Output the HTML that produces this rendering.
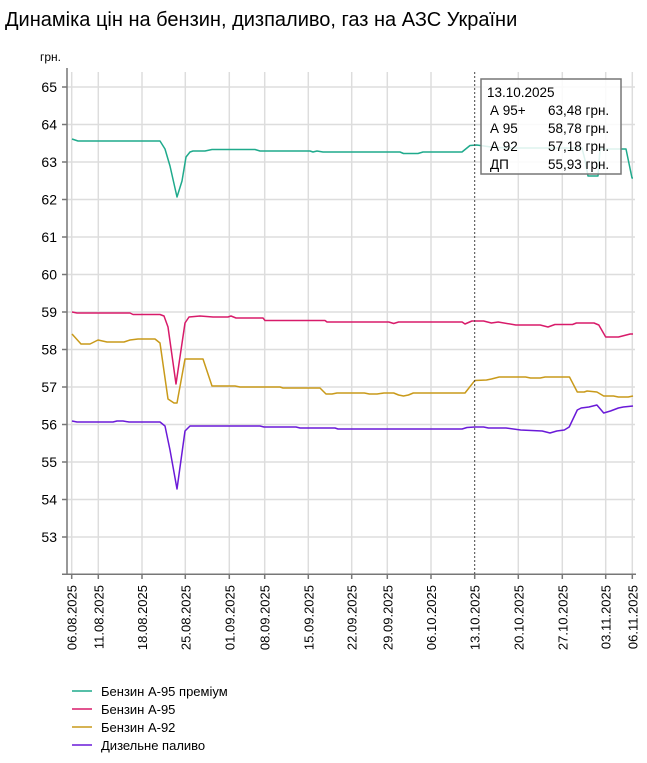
<!DOCTYPE html>
<html><head><meta charset="utf-8"><style>
body{margin:0;background:#fff;width:647px;height:758px;overflow:hidden;font-family:"Liberation Sans",Arial,sans-serif}
</style></head><body>
<svg width="647" height="758" xmlns="http://www.w3.org/2000/svg" font-family="Liberation Sans, Arial, sans-serif">
<text x="5" y="26" font-size="20" fill="#000">Динаміка цін на бензин, дизпаливо, газ на АЗС України</text>
<text x="40" y="61" font-size="12" fill="#000">грн.</text>
<g stroke="#ddd" stroke-width="1.5">
<line x1="67" y1="87" x2="635" y2="87"/><line x1="67" y1="124.5" x2="635" y2="124.5"/><line x1="67" y1="162" x2="635" y2="162"/><line x1="67" y1="199.5" x2="635" y2="199.5"/><line x1="67" y1="237" x2="635" y2="237"/><line x1="67" y1="274.5" x2="635" y2="274.5"/><line x1="67" y1="312" x2="635" y2="312"/><line x1="67" y1="349.5" x2="635" y2="349.5"/><line x1="67" y1="387" x2="635" y2="387"/><line x1="67" y1="424.5" x2="635" y2="424.5"/><line x1="67" y1="462" x2="635" y2="462"/><line x1="67" y1="499.5" x2="635" y2="499.5"/><line x1="67" y1="537" x2="635" y2="537"/>
<line x1="71.7" y1="72" x2="71.7" y2="574"/><line x1="98.3" y1="72" x2="98.3" y2="574"/><line x1="142" y1="72" x2="142" y2="574"/><line x1="185.3" y1="72" x2="185.3" y2="574"/><line x1="229.3" y1="72" x2="229.3" y2="574"/><line x1="264.7" y1="72" x2="264.7" y2="574"/><line x1="308.3" y1="72" x2="308.3" y2="574"/><line x1="351.7" y1="72" x2="351.7" y2="574"/><line x1="387.3" y1="72" x2="387.3" y2="574"/><line x1="431" y1="72" x2="431" y2="574"/><line x1="518.3" y1="72" x2="518.3" y2="574"/><line x1="562.3" y1="72" x2="562.3" y2="574"/><line x1="605.7" y1="72" x2="605.7" y2="574"/><line x1="632.3" y1="72" x2="632.3" y2="574"/>
</g>
<g stroke="#777" stroke-width="1.5">
<line x1="67" y1="68" x2="67" y2="575"/><line x1="62" y1="574.3" x2="636" y2="574.3"/>
<line x1="62" y1="87" x2="67" y2="87"/><line x1="62" y1="124.5" x2="67" y2="124.5"/><line x1="62" y1="162" x2="67" y2="162"/><line x1="62" y1="199.5" x2="67" y2="199.5"/><line x1="62" y1="237" x2="67" y2="237"/><line x1="62" y1="274.5" x2="67" y2="274.5"/><line x1="62" y1="312" x2="67" y2="312"/><line x1="62" y1="349.5" x2="67" y2="349.5"/><line x1="62" y1="387" x2="67" y2="387"/><line x1="62" y1="424.5" x2="67" y2="424.5"/><line x1="62" y1="462" x2="67" y2="462"/><line x1="62" y1="499.5" x2="67" y2="499.5"/><line x1="62" y1="537" x2="67" y2="537"/>
<line x1="71.7" y1="574" x2="71.7" y2="579"/><line x1="98.3" y1="574" x2="98.3" y2="579"/><line x1="142" y1="574" x2="142" y2="579"/><line x1="185.3" y1="574" x2="185.3" y2="579"/><line x1="229.3" y1="574" x2="229.3" y2="579"/><line x1="264.7" y1="574" x2="264.7" y2="579"/><line x1="308.3" y1="574" x2="308.3" y2="579"/><line x1="351.7" y1="574" x2="351.7" y2="579"/><line x1="387.3" y1="574" x2="387.3" y2="579"/><line x1="431" y1="574" x2="431" y2="579"/><line x1="474.7" y1="574" x2="474.7" y2="579"/><line x1="518.3" y1="574" x2="518.3" y2="579"/><line x1="562.3" y1="574" x2="562.3" y2="579"/><line x1="605.7" y1="574" x2="605.7" y2="579"/><line x1="632.3" y1="574" x2="632.3" y2="579"/>
</g>
<g font-size="14" fill="#000" text-anchor="end">
<text x="57" y="92">65</text><text x="57" y="129.5">64</text><text x="57" y="167">63</text><text x="57" y="204.5">62</text><text x="57" y="242">61</text><text x="57" y="279.5">60</text><text x="57" y="317">59</text><text x="57" y="354.5">58</text><text x="57" y="392">57</text><text x="57" y="429.5">56</text><text x="57" y="467">55</text><text x="57" y="504.5">54</text><text x="57" y="542">53</text>
</g>
<g font-size="13" fill="#000" text-anchor="end">
<text transform="translate(76.7,585) rotate(-90)">06.08.2025</text>
<text transform="translate(103.3,585) rotate(-90)">11.08.2025</text>
<text transform="translate(147,585) rotate(-90)">18.08.2025</text>
<text transform="translate(190.3,585) rotate(-90)">25.08.2025</text>
<text transform="translate(234.3,585) rotate(-90)">01.09.2025</text>
<text transform="translate(269.7,585) rotate(-90)">08.09.2025</text>
<text transform="translate(313.3,585) rotate(-90)">15.09.2025</text>
<text transform="translate(356.7,585) rotate(-90)">22.09.2025</text>
<text transform="translate(392.3,585) rotate(-90)">29.09.2025</text>
<text transform="translate(436,585) rotate(-90)">06.10.2025</text>
<text transform="translate(479.7,585) rotate(-90)">13.10.2025</text>
<text transform="translate(523.3,585) rotate(-90)">20.10.2025</text>
<text transform="translate(567.3,585) rotate(-90)">27.10.2025</text>
<text transform="translate(610.7,585) rotate(-90)">03.11.2025</text>
<text transform="translate(637.3,585) rotate(-90)">06.11.2025</text>
</g>
<g fill="none" stroke-width="1.5" stroke-linejoin="round">
<polyline stroke="#1faa8c" points="72,139 78,141 160,141 165,149 170,166 177,197 182,181 186,157 190,152 193,151 205,151 212,149.5 255,149.5 260,151 310,151 313,152 317,151 323,152 400,152 403.5,153.5 418,153.5 423,152 462,152 470,145.5 476.7,145 491,147 506,148 582,148 585,160 588,176 598,176 600,149 626,149 632,178 633,178"/>
<polyline stroke="#d81b6a" points="72,312 77,313 130,313 133,314.5 160,314.5 164,316 168,327 176,384 185,323 189,317 200,316 213,317 228,317 231,316 236,318 263,318 265,320.5 325,320.5 327,322 388.8,322 393.7,323.5 398.6,322 462.1,322 465,324 471.9,321 483.6,321 491.4,323 498.2,322 515.8,325 540.2,325 548,327 554.9,324.5 572.5,324.5 576.4,323 594,323 598.8,325 605.7,337 618.5,337 630.2,334 633,334"/>
<polyline stroke="#c99a1a" points="72,334 81,344 90,344 98,340 107,342 124,342 130,340 138,339 155,339 160,343 168,399 174,403 177,403 185,359 203,359 212,386 235,386 240,387 280,387 283,388 320,388 326,394 332,394 337,393 364.4,393 369.3,394 377.1,394 384,393 393.7,393 398.6,395 403.5,396 408.4,395 413.3,393 465,393 474.8,380.5 486.5,380 491.4,379 499.2,377 525.6,377 530.5,378 540.2,378 545.1,377 569.5,377 577.3,392 584.2,392 587.1,391 596.9,392 603.7,396 613.5,396 618.4,397 628.2,397 633,396"/>
<polyline stroke="#6a1ad8" points="72,421 77,422 113,422 117,421 123,421 129,422 160,422 165,426 170,450 177,489 185,431 190,426 260,426 264,427 296,427 300,428 335,428 338,429 462.1,429 467,427.5 474.8,427 483.6,427 488.5,428 506,428 520.7,430 542.2,431 550,433 556.8,431 564.3,430 569.2,427 577.3,410 581.2,408 588.9,407 596.9,405 603.7,413 610.5,411 618.4,408 623.3,407 633,406"/>
</g>
<line x1="474.7" y1="72" x2="474.7" y2="574" stroke="#444" stroke-width="1" stroke-dasharray="2,2"/>
<rect x="481" y="79" width="140" height="95" fill="#fff" fill-opacity="0.85" stroke="#777" stroke-width="1.5"/>
<g font-size="13.5" fill="#000">
<text x="487" y="97">13.10.2025</text>
<text x="490" y="115">А 95+</text><text x="548" y="115">63,48 грн.</text>
<text x="490" y="133">А 95</text><text x="548" y="133">58,78 грн.</text>
<text x="490" y="151">А 92</text><text x="548" y="151">57,18 грн.</text>
<text x="490" y="169">ДП</text><text x="548" y="169">55,93 грн.</text>
</g>
<g stroke-width="1.5">
<line x1="72" y1="691" x2="92" y2="691" stroke="#1faa8c"/>
<line x1="72" y1="709" x2="92" y2="709" stroke="#d81b6a"/>
<line x1="72" y1="727" x2="92" y2="727" stroke="#c99a1a"/>
<line x1="72" y1="745" x2="92" y2="745" stroke="#6a1ad8"/>
</g>
<g font-size="13" fill="#000">
<text x="101" y="696">Бензин А-95 преміум</text>
<text x="101" y="714">Бензин А-95</text>
<text x="101" y="732">Бензин А-92</text>
<text x="101" y="750">Дизельне паливо</text>
</g>
</svg>
</body></html>
